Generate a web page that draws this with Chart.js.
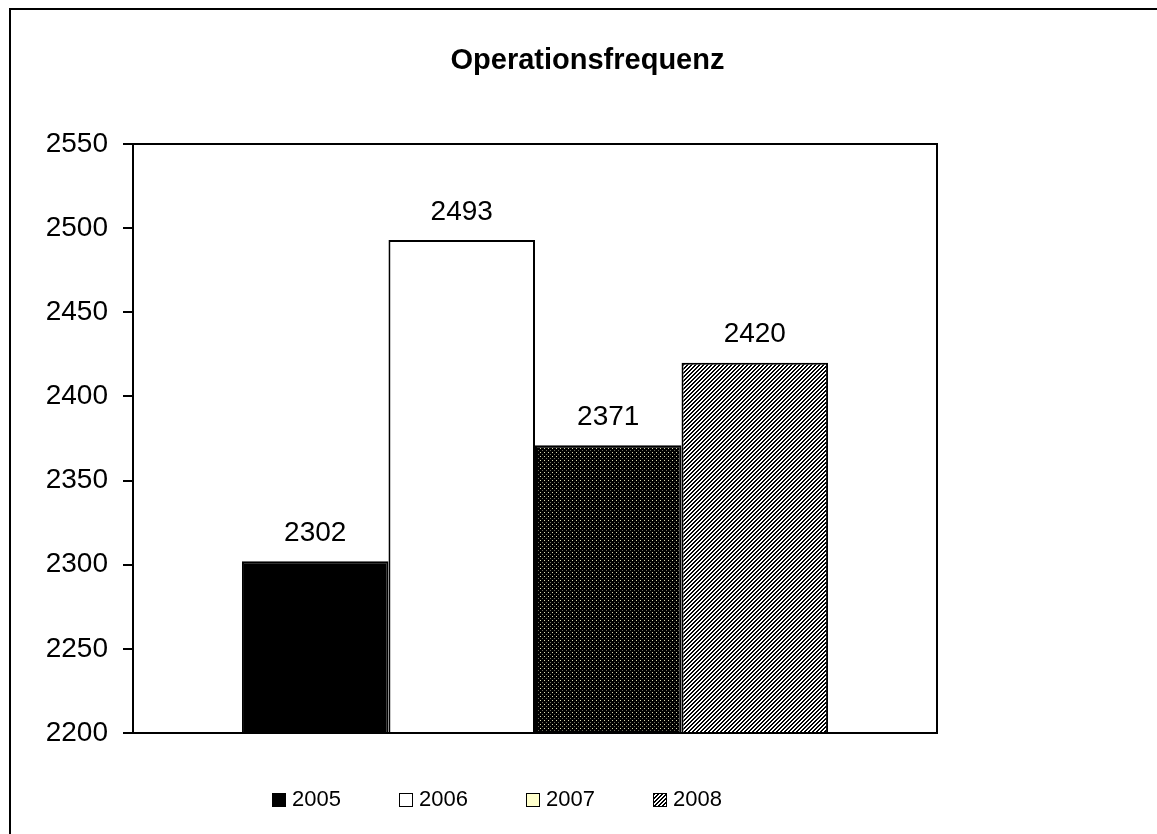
<!DOCTYPE html>
<html>
<head>
<meta charset="utf-8">
<script src="https://cdn.jsdelivr.net/npm/chart.js@4/dist/chart.umd.min.js"></script>
<style>
	body { margin: 0; background: #fff; }
	canvas { display: block; }
</style>
</head>
<body>
<canvas id="chart" width="1157" height="834"></canvas>
<script>
// data
const categories = ['Operationen'];
const years = ['2005', '2006', '2007', '2008'];
const operations = [2302, 2493, 2371, 2420];
const yTicks = { min: 2200, max: 2550, step: 50 };

const FONT = "'Liberation Sans', Arial, sans-serif";

// small tiled patterns like the excel fills
function makePattern (size, draw) {
	const c = document.createElement('canvas');
	c.width = size;
	c.height = size;
	draw(c.getContext('2d'));
	return document.getElementById('chart').getContext('2d').createPattern(c, 'repeat');
}

const dotsPattern = makePattern(4, (p) => {
	p.fillStyle = '#000';
	p.fillRect(0, 0, 4, 4);
	p.fillStyle = '#d8d8b0';
	p.fillRect(0, 0, 1, 1);
	p.fillStyle = '#6c6c5c';
	p.fillRect(2, 2, 1, 1);
});

const hatchPattern = makePattern(4, (p) => {
	p.fillStyle = '#fff';
	p.fillRect(0, 0, 4, 4);
	p.fillStyle = '#000';
	for (let y = 0; y < 4; y++) {
		p.fillRect((3 - y + 4) % 4, y, 1, 1);
		p.fillRect((4 - y) % 4, y, 1, 1);
	}
});

const barFills = ['#000000', '#ffffff', dotsPattern, hatchPattern];
const legendFills = ['#000000', '#ffffff', '#ffffcc', hatchPattern];

// outer frame, plot box and value labels
const decorations = {
	id: 'decorations',
	beforeDraw (chart) {
		const ctx = chart.ctx;
		ctx.save();
		ctx.fillStyle = '#000';
		ctx.fillRect(9, 8, 2, chart.height);
		ctx.fillRect(9, 8, chart.width, 2);
		ctx.restore();
	},
	afterDatasetsDraw (chart) {
		const ctx = chart.ctx;
		const area = chart.chartArea;
		ctx.save();
		ctx.strokeStyle = '#000';
		ctx.lineWidth = 2;
		ctx.strokeRect(area.left, area.top, area.right - area.left, area.bottom - area.top);

		ctx.fillStyle = '#000';
		ctx.font = '28px ' + FONT;
		ctx.textAlign = 'center';
		ctx.textBaseline = 'middle';
		chart.data.datasets.forEach((ds, i) => {
			chart.getDatasetMeta(i).data.forEach((bar, j) => {
				ctx.fillText(String(ds.data[j]), bar.x, bar.y - 28);
			});
		});
		ctx.restore();
	}
};

// legend drawn like the excel one (tight box + text)
const legendRow = {
	id: 'legendRow',
	afterDraw (chart) {
		const ctx = chart.ctx;
		let x = chart.chartArea.left + 139;
		ctx.save();
		ctx.font = '22px ' + FONT;
		ctx.textBaseline = 'alphabetic';
		ctx.textAlign = 'left';
		chart.data.datasets.forEach((ds, i) => {
			ctx.fillStyle = legendFills[i];
			ctx.fillRect(x, 793, 14, 14);
			ctx.strokeStyle = '#000';
			ctx.lineWidth = 1;
			ctx.strokeRect(x + 0.5, 793.5, 13, 13);
			ctx.fillStyle = '#000';
			ctx.fillText(ds.label, x + 20, 806);
			x += 127;
		});
		ctx.restore();
	}
};

new Chart(document.getElementById('chart'), {
	type: 'bar',
	data: {
		labels: categories,
		datasets: years.map((year, i) => ({
			label: year,
			data: [operations[i]],
			backgroundColor: barFills[i],
			borderColor: '#000',
			borderWidth: 2,
			borderSkipped: 'start',
			categoryPercentage: 0.729,
			barPercentage: 1
		}))
	},
	options: {
		responsive: false,
		animation: false,
		layout: { padding: { left: 18, right: 0, top: 0, bottom: 0 } },
		plugins: {
			legend: { display: false },
			tooltip: { enabled: false },
			title: {
				display: true,
				text: 'Operationsfrequenz',
				color: '#000',
				font: { family: FONT, size: 29, weight: 'bold', lineHeight: 1.2 },
				padding: { top: 43.6, bottom: 65.6 }
			}
		},
		scales: {
			x: {
				ticks: { display: false },
				grid: { display: false },
				border: { display: true, color: '#000', width: 2 },
				afterFit: (s) => { s.height = 101; }
			},
			y: {
				min: yTicks.min,
				max: yTicks.max,
				ticks: {
					stepSize: yTicks.step,
					color: '#000',
					padding: 15,
					font: { family: FONT, size: 28 },
					callback: (value) => String(value)
				},
				grid: {
					drawOnChartArea: false,
					drawTicks: true,
					tickLength: 10,
					color: '#000',
					lineWidth: 2
				},
				border: { display: true, color: '#000', width: 2 },
				afterFit: (s) => { s.width = 115; }
			},
			y2: {
				position: 'right',
				ticks: { display: false },
				grid: { display: false },
				border: { display: false },
				afterFit: (s) => { s.width = 220; }
			}
		}
	},
	plugins: [decorations, legendRow]
});
</script>
</body>
</html>
